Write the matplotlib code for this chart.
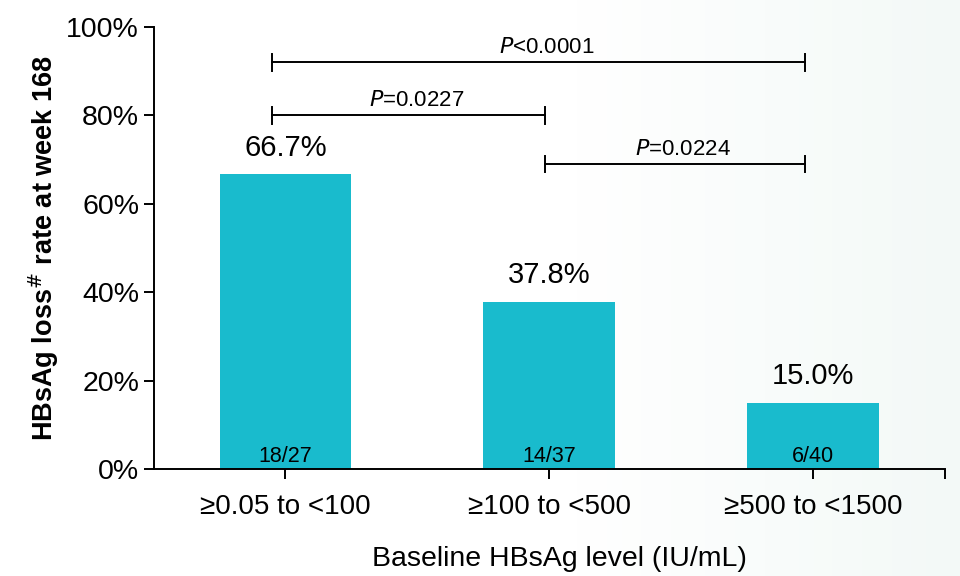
import numpy as np
import matplotlib.pyplot as plt
from matplotlib.colors import LinearSegmentedColormap

plt.rcParams['font.family'] = ['Liberation Sans', 'DejaVu Sans']

categories = ['≥0.05 to <100', '≥100 to <500', '≥500 to <1500']
rates = [66.7, 37.8, 15.0]
counts = ['18/27', '14/37', '6/40']

# comparisons: (left bar, right bar, height in %, label)
comparisons = [
    (0, 2, 92, '<0.0001'),
    (0, 1, 80, '=0.0227'),
    (1, 2, 69, '=0.0224'),
]

fig = plt.figure(figsize=(9.6, 5.76), dpi=100)

# faint background gradient, white to pale mint on the right
bg = fig.add_axes([0, 0, 1, 1], zorder=-1)
grad = np.linspace(0, 1, 256).reshape(1, -1)
grad = np.clip((grad - 0.6) / 0.4, 0, 1)
cm = LinearSegmentedColormap.from_list('bg', ['#ffffff', '#f3f9f7'])
bg.imshow(grad, aspect='auto', cmap=cm, extent=[0, 1, 0, 1])
bg.axis('off')

ax = fig.add_axes([0.160, 0.186, 0.824, 0.767])
ax.patch.set_alpha(0)

x = np.arange(len(categories))
ax.bar(x, rates, width=0.5, color='#19BBCD', zorder=2)

for xi, r, c in zip(x, rates, counts):
    ax.text(xi, r + 2.8, f'{r:.1f}%', ha='center', va='bottom', fontsize=21)
    ax.text(xi, 0.5, c, ha='center', va='bottom', fontsize=15.5)

# bracket end offsets relative to each bar centre
offs = {0: -0.05, 1: -0.015, 2: -0.03}
for a, b, h, lab in comparisons:
    xa, xb = a + offs[a], b + offs[b]
    ax.plot([xa, xb], [h, h], color='black', lw=1.4)
    ax.plot([xa, xa], [h - 1.9, h + 1.9], color='black', lw=1.4)
    ax.plot([xb, xb], [h - 1.9, h + 1.9], color='black', lw=1.4)
    ax.text((xa + xb) / 2 + 0.03, h + 0.9, r'$\it{P}$' + lab, ha='center',
            va='bottom', fontsize=16)

ax.set_xlim(-0.5, 2.5)
ax.set_ylim(0, 100)
ax.set_yticks(range(0, 101, 20))
ax.set_yticklabels([f'{v}%' for v in range(0, 101, 20)], fontsize=20.5)
ax.set_xticks([0, 1, 2, 2.5])
ax.set_xticklabels(categories + [''], fontsize=20)
ax.tick_params(axis='both', length=7, width=1.4, direction='out')
ax.tick_params(axis='x', pad=11)
for s in ['top', 'right']:
    ax.spines[s].set_visible(False)
for s in ['left', 'bottom']:
    ax.spines[s].set_linewidth(1.4)

ax.set_xlabel('Baseline HBsAg level (IU/mL)', fontsize=20.5)
ax.xaxis.set_label_coords(0.513, -0.175)
ax.set_ylabel(r'HBsAg loss$^{\#}$ rate at week 168', fontsize=19.5,
              fontweight='bold', labelpad=4)

fig.savefig('out.png', dpi=100)
